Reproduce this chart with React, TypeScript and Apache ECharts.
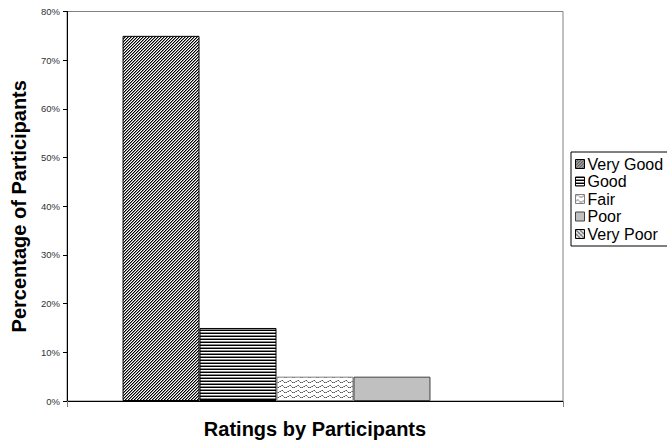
import React, { useEffect, useRef } from "react";
import * as echarts from "echarts";

const ratingNames = ["Very Good", "Good", "Fair", "Poor", "Very Poor"];
const ratingShares = [75, 15, 5, 5, 0];
const yTicks = { min: 0, max: 80, interval: 10 };
const category = [""];

const FONT = 'Arial, "Liberation Sans", Helvetica, sans-serif';

type Painter = (ctx: CanvasRenderingContext2D, w: number, h: number) => void;

function makeTile(w: number, h: number, paint: Painter) {
  const c = document.createElement("canvas");
  c.width = w;
  c.height = h;
  const ctx = c.getContext("2d")!;
  ctx.fillStyle = "#ffffff";
  ctx.fillRect(0, 0, w, h);
  paint(ctx, w, h);
  return { image: c, repeat: "repeat", imageWidth: w, imageHeight: h } as any;
}

function px(ctx: CanvasRenderingContext2D, x: number, y: number, color: string) {
  ctx.fillStyle = color;
  ctx.fillRect(x, y, 1, 1);
}

// "////" dense diagonal hatch
const diagonalHatch: Painter = (ctx, w, h) => {
  for (let y = 0; y < h; y++) {
    for (let x = 0; x < w; x++) {
      const d = (x + y) % 3;
      if (d === 2) px(ctx, x, y, "#000000");
      else if (d === 0) px(ctx, x, y, "#8c8c8c");
    }
  }
};

// horizontal lines
const horizontalHatch: Painter = (ctx, w) => {
  ctx.fillStyle = "#000000";
  ctx.fillRect(0, 0, w, 1);
  ctx.fillStyle = "#8a8a8a";
  ctx.fillRect(0, 2, w, 1);
};

// dotted waves on white
const waveHatch: Painter = (ctx, w) => {
  const wave = [1, 0, 0, 1, 2, 2, 2, 1];
  for (let x = 0; x < w; x++) {
    px(ctx, x, wave[x % wave.length], x % 2 === 0 ? "#555555" : "#999999");
  }
};

// solid gray
const solidGray = "#c0c0c0";

// "\\\\" hatch with gray weave
const crossHatch: Painter = (ctx, w, h) => {
  for (let y = 0; y < h; y++) {
    for (let x = 0; x < w; x++) {
      const d = (x - y + 16) % 4;
      if (d === 0) px(ctx, x, y, "#000000");
      else if ((x + y) % 4 === 2) px(ctx, x, y, "#9a9a9a");
    }
  }
};

export default function App() {
  const ref = useRef<HTMLDivElement>(null);

  useEffect(() => {
    if (!ref.current) return;
    const chart = echarts.init(ref.current, null, { renderer: "svg" });

    const fills = [
      makeTile(3, 3, diagonalHatch),
      makeTile(4, 3, horizontalHatch),
      makeTile(8, 5, waveHatch),
      solidGray,
      makeTile(4, 4, crossHatch),
    ];
    const borders = ["#000000", "#000000", "#808080", "#404040", "#000000"];

    chart.setOption({
      animation: false,
      backgroundColor: "#ffffff",
      textStyle: { fontFamily: FONT },
      grid: {
        left: 67,
        right: 104,
        top: 11.5,
        bottom: 42,
        outerBoundsMode: "none",
        containLabel: false,
        show: true,
        borderColor: "#808080",
        borderWidth: 1,
        backgroundColor: "transparent",
      },
      legend: {
        orient: "vertical",
        left: 571,
        top: 152,
        icon: "rect",
        itemWidth: 9,
        itemHeight: 9,
        itemGap: 1.5,
        padding: [4, 10, 4, 4],
        borderColor: "#000000",
        borderWidth: 1,
        backgroundColor: "#ffffff",
        textStyle: { fontFamily: FONT, fontSize: 16, color: "#000000", padding: [0, 0, 0, -2] },
        data: ratingNames.map((name, i) => ({
          name,
          itemStyle: { borderColor: borders[i], borderWidth: 1 },
        })),
      },
      xAxis: {
        type: "category",
        data: category,
        name: "Ratings by Participants",
        nameLocation: "middle",
        nameGap: 18,
        nameTextStyle: { fontFamily: FONT, fontSize: 20, fontWeight: "bold", color: "#000000" },
        axisLine: { show: true, lineStyle: { color: "#000000", width: 1 } },
        axisTick: { show: true, length: 6, lineStyle: { color: "#808080" } },
        axisLabel: { show: false },
        splitLine: { show: false },
      },
      yAxis: {
        type: "value",
        min: yTicks.min,
        max: yTicks.max,
        interval: yTicks.interval,
        name: "Percentage of Participants",
        nameLocation: "middle",
        nameGap: 38,
        nameTextStyle: { fontFamily: FONT, fontSize: 20, fontWeight: "bold", color: "#000000" },
        axisLine: { show: true, lineStyle: { color: "#000000", width: 1 } },
        axisTick: { show: true, length: 4, lineStyle: { color: "#000000" } },
        axisLabel: {
          formatter: (v: number) => `${v}%`,
          fontFamily: FONT,
          fontSize: 9.5,
          color: "#333333",
          margin: 7,
        },
        splitLine: { show: false },
      },
      series: ratingNames.map((name, i) => ({
        name,
        type: "bar",
        data: [ratingShares[i]],
        barGap: "0%",
        barCategoryGap: "22.4%",
        itemStyle: {
          color: fills[i],
          borderColor: borders[i],
          borderWidth: ratingShares[i] > 0 ? 1 : 0,
        },
      })),
    });

    return () => chart.dispose();
  }, []);

  return (
    <div
      ref={ref}
      style={{ position: "absolute", left: 0, top: 0, width: 667, height: 443, background: "#fff" }}
    />
  );
}
